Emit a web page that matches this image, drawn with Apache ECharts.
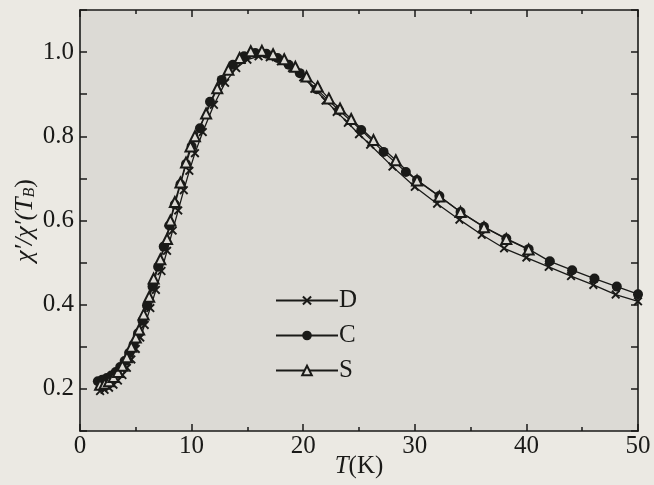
<!DOCTYPE html>
<html>
<head>
<meta charset="utf-8">
<script src="https://cdn.jsdelivr.net/npm/echarts@6/dist/echarts.min.js"></script>
<style>
html,body{margin:0;padding:0;background:#ebe9e3;}
#c{width:654px;height:485px;}
</style>
</head>
<body>
<div id="c"></div>
<script>
// Series D
var dT = [1.8,2.2,2.6,3.0,3.4,3.8,4.2,4.6,5.0,5.4,5.8,6.3,6.8,7.3,7.8,8.3,8.8,9.3,9.8,10.3,11.0,12.0,13.0,14.0,15.0,16.0,17.0,18.0,19.0,20.0,21.0,22.0,23.0,24.0,25.0,26.0,28.0,30.0,32.0,34.0,36.0,38.0,40.0,42.0,44.0,46.0,48.0,50.0];
var dV = [0.195,0.198,0.203,0.21,0.22,0.233,0.25,0.27,0.295,0.322,0.352,0.392,0.435,0.48,0.528,0.576,0.624,0.672,0.718,0.76,0.81,0.875,0.927,0.962,0.982,0.99,0.988,0.978,0.962,0.94,0.913,0.885,0.858,0.832,0.805,0.78,0.728,0.68,0.64,0.602,0.566,0.534,0.512,0.49,0.468,0.447,0.424,0.408];
// Series C
var cT = [1.6,2.0,2.4,2.8,3.2,3.6,4.0,4.4,4.8,5.2,5.6,6.0,6.5,7.0,7.5,8.0,8.5,9.0,9.5,10.0,10.75,11.65,12.7,13.7,14.7,15.7,16.7,17.7,18.7,19.7,21.2,23.2,25.2,27.2,29.2,30.2,32.2,34.1,36.2,38.2,40.2,42.1,44.1,46.1,48.1,50.0];
var cV = [0.218,0.222,0.226,0.232,0.24,0.252,0.266,0.285,0.305,0.332,0.362,0.398,0.443,0.49,0.538,0.588,0.638,0.686,0.734,0.776,0.819,0.882,0.934,0.97,0.99,0.998,0.996,0.986,0.97,0.95,0.912,0.862,0.815,0.763,0.715,0.696,0.658,0.62,0.585,0.557,0.532,0.503,0.482,0.462,0.443,0.425];
// Series S
var sT = [1.8,2.2,2.6,3.0,3.4,3.8,4.2,4.6,5.0,5.3,5.7,6.2,6.6,7.2,7.8,8.1,8.5,9.0,9.5,9.9,10.3,11.3,12.3,13.3,14.3,15.3,16.3,17.3,18.3,19.3,20.3,21.3,22.3,23.3,24.3,26.3,28.3,30.2,32.2,34.1,36.2,38.2,40.2];
var sV = [0.21,0.212,0.218,0.228,0.24,0.255,0.275,0.3,0.322,0.341,0.377,0.419,0.462,0.508,0.556,0.6,0.644,0.69,0.738,0.776,0.8,0.854,0.914,0.958,0.986,1.002,1.003,0.995,0.983,0.965,0.942,0.918,0.89,0.866,0.841,0.791,0.743,0.695,0.657,0.62,0.584,0.556,0.531];

var seriesNames = ['D','C','S'];
var xTicks = [0,10,20,30,40,50];
var yTickLabels = ['0.2','0.4','0.6','0.8','1.0'];

function zip(a,b){ return a.map(function(v,i){ return [v,b[i]]; }); }

var PLOT_BG = '#dcdad5';
var INK = '#1a1a18';
var SERIF = '"Liberation Serif","DejaVu Serif",serif';
var crossPath = 'path://M0,1.5L1.5,0L5,3.5L8.5,0L10,1.5L6.5,5L10,8.5L8.5,10L5,6.5L1.5,10L0,8.5L3.5,5Z';

var chart = echarts.init(document.getElementById('c'), null, {renderer:'canvas'});
var axisCommon = {
  axisLine:{show:true,onZero:false,lineStyle:{color:INK,width:1.6}},
  splitLine:{show:false},
  nameMoveOverlap:false
};
chart.setOption({
  backgroundColor:'#ebe9e3',
  animation:false,
  grid:{left:80,right:16,top:10,bottom:54,show:true,backgroundColor:PLOT_BG,borderWidth:0,
    containLabel:false,outerBoundsMode:'none'},
  legend:{
    left:270, top:283, orient:'vertical', itemWidth:62, itemHeight:12, itemGap:10,
    data:seriesNames,
    textStyle:{fontFamily:SERIF,fontSize:25,color:INK,lineHeight:24,padding:[0,0,0,-4]}
  },
  xAxis:[
    Object.assign({}, axisCommon, {
      type:'value', min:0, max:50, interval:10, position:'bottom',
      axisTick:{inside:true,length:7,lineStyle:{color:INK,width:1.5}},
      minorTick:{show:true,splitNumber:2,length:4,lineStyle:{color:INK,width:1.5}},
      axisLabel:{fontFamily:SERIF,fontSize:25,color:INK,margin:3,
        formatter:function(v){ return xTicks.indexOf(v)>=0 ? String(v) : ''; }},
      name:'{i|T}{n|(K)}', nameLocation:'middle', nameGap:23,
      nameTextStyle:{lineHeight:24,rich:{i:{fontFamily:SERIF,fontSize:25,fontStyle:'italic',color:INK,lineHeight:24},n:{fontFamily:SERIF,fontSize:25,color:INK,lineHeight:24}}}
    }),
    Object.assign({}, axisCommon, {
      type:'value', min:0, max:50, interval:10, position:'top',
      axisTick:{inside:true,length:7,lineStyle:{color:INK,width:1.5}},
      minorTick:{show:true,splitNumber:2,length:4,lineStyle:{color:INK,width:1.5}},
      axisLabel:{show:false}
    })
  ],
  yAxis:[
    Object.assign({}, axisCommon, {
      type:'value', min:0.1, max:1.1, interval:0.1, position:'left',
      axisTick:{inside:true,length:7,lineStyle:{color:INK,width:1.5}},
      axisLabel:{fontFamily:SERIF,fontSize:25,color:INK,margin:6,
        formatter:function(v){ var s=v.toFixed(1); return yTickLabels.indexOf(s)>=0 ? s : ''; }},
      name:'{i|χ′/χ′(T}{s|B}{n|)}', nameLocation:'middle', nameGap:40, nameRotate:90,
      nameTextStyle:{rich:{
        i:{fontFamily:SERIF,fontSize:26,fontStyle:'italic',color:INK,lineHeight:30},
        s:{fontFamily:SERIF,fontSize:16,fontStyle:'italic',color:INK,lineHeight:30,padding:[10,0,0,0]},
        n:{fontFamily:SERIF,fontSize:26,color:INK,lineHeight:30}}}
    }),
    Object.assign({}, axisCommon, {
      type:'value', min:0.1, max:1.1, interval:0.1, position:'right',
      axisTick:{inside:true,length:7,lineStyle:{color:INK,width:1.5}},
      axisLabel:{show:false}
    })
  ],
  series:[
    {name:'D',type:'line',data:zip(dT,dV),symbol:crossPath,symbolSize:9,
      lineStyle:{color:INK,width:1.3},itemStyle:{color:INK},z:2},
    {name:'C',type:'line',data:zip(cT,cV),symbol:'circle',symbolSize:10,
      lineStyle:{color:INK,width:1.3},itemStyle:{color:INK},z:3},
    {name:'S',type:'line',data:zip(sT,sV),symbol:'triangle',symbolSize:10,
      lineStyle:{color:INK,width:1.3},itemStyle:{color:PLOT_BG,borderColor:INK,borderWidth:2},z:4}
  ]
});
</script>
</body>
</html>
